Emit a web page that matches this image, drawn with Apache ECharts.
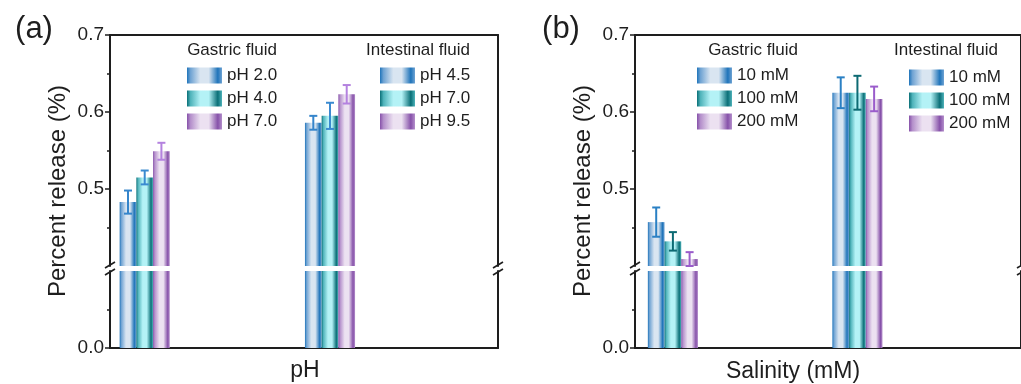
<!DOCTYPE html>
<html><head><meta charset="utf-8">
<script src="https://cdn.jsdelivr.net/npm/echarts@6/dist/echarts.min.js"></script>
<style>html,body{margin:0;padding:0;background:#fff;} #c{width:1021px;height:384px;}</style>
</head><body><div id="c"></div>
<script>
// ---------------- data ----------------
const groupX = [1, 2]; // gastric group, intestinal group
const aGastricLabels = ['pH 2.0', 'pH 4.0', 'pH 7.0'];
const aIntestinalLabels = ['pH 4.5', 'pH 7.0', 'pH 9.5'];
const aValues = [[0.483, 0.586], [0.515, 0.595], [0.549, 0.623]];   // per slot: [gastric, intestinal]
const aErrors = [[0.015, 0.009], [0.009, 0.017], [0.011, 0.012]];
const bGastricLabels = ['10 mM', '100 mM', '200 mM'];
const bIntestinalLabels = ['10 mM', '100 mM', '200 mM'];
const bValues = [[0.457, 0.625], [0.432, 0.625], [0.409, 0.617]];
const bErrors = [[0.019, 0.020], [0.012, 0.022], [0.009, 0.016]];
const upperTickValues = [0.5, 0.6, 0.7];
const lowerTickValues = [0.0];
const headerGastric = 'Gastric fluid';
const headerIntestinal = 'Intestinal fluid';
const yName = 'Percent release (%)';
const aXName = 'pH';
const bXName = 'Salinity (mM)';

// ---------------- layout / style ----------------
const FONT = 'Liberation Sans, Arial, sans-serif';
const INK = '#1e1e1e';
const BAR_W = 16.7;
const UP_TOP = 35, UP_H = 231, LO_TOP = 271, LO_H = 77;
const PANELS = [
  {left: 110, width: 388, xmin: 0.8127, xmax: 2.9066},
  {left: 635, width: 387, xmin: 0.7946, xmax: 2.8865}
];
const SLOT_COLORS = [
  {dark: '#1f74ba', mid: '#6fa3d3', light: '#d9e5f1'},
  {dark: '#0a6f77', mid: '#4fb3ba', light: '#b4f2f6'},
  {dark: '#8651a9', mid: '#b48fcb', light: '#ece1f1'}
];
const ERR_COLORS = [
  ['#3585cb', '#3a8ad0', '#b482df'],
  ['#2a80c4', '#0d6a73', '#9a5ccb']
];
function grad(c) {
  return new echarts.graphic.LinearGradient(0, 0, 1, 0, [
    {offset: 0, color: c.dark}, {offset: 0.1, color: c.mid},
    {offset: 0.38, color: c.light}, {offset: 0.62, color: c.light},
    {offset: 0.88, color: c.dark}, {offset: 1, color: c.mid}
  ]);
}

const grids = [], xAxes = [], yAxes = [], series = [];
function axisLineStyle() { return {show: true, onZero: false, lineStyle: {color: INK, width: 2}}; }

PANELS.forEach((p, pi) => {
  // upper grid (index pi*2), lower grid (pi*2+1)
  grids.push({left: p.left, width: p.width, top: UP_TOP, height: UP_H});
  grids.push({left: p.left, width: p.width, top: LO_TOP, height: LO_H});
  const gU = pi * 2, gL = pi * 2 + 1;
  // x axes
  xAxes.push({gridIndex: gU, type: 'value', min: p.xmin, max: p.xmax, position: 'top',
    axisLine: axisLineStyle(), axisTick: {show: false}, axisLabel: {show: false}, splitLine: {show: false}});
  xAxes.push({gridIndex: gL, type: 'value', min: p.xmin, max: p.xmax, position: 'bottom',
    axisLine: axisLineStyle(), axisTick: {show: false}, axisLabel: {show: false}, splitLine: {show: false}});
  // y axes: upper-left, upper-right, lower-left, lower-right
  const tickCommon = (vals) => ({
    axisLine: axisLineStyle(),
    axisTick: {show: true, inside: false, length: 5, customValues: vals, lineStyle: {color: INK, width: 1.5}},
    minorTick: {show: true, splitNumber: 2, length: 3, lineStyle: {color: INK, width: 1.5}},
    axisLabel: {show: true, customValues: vals, formatter: v => Number(v).toFixed(1), fontSize: 19,
      color: INK, margin: 6, fontFamily: FONT},
    splitLine: {show: false}, minorSplitLine: {show: false}
  });
  yAxes.push(Object.assign({gridIndex: gU, type: 'value', min: 0.4, max: 0.7, interval: 0.1, position: 'left'},
    tickCommon(upperTickValues)));
  yAxes.push({gridIndex: gU, type: 'value', min: 0.4, max: 0.7, interval: 0.1, position: 'right',
    axisLine: axisLineStyle(), axisTick: {show: false}, axisLabel: {show: false}, splitLine: {show: false}});
  yAxes.push(Object.assign({gridIndex: gL, type: 'value', min: 0, max: 0.1, interval: 0.1, position: 'left'},
    tickCommon(lowerTickValues)));
  yAxes.push({gridIndex: gL, type: 'value', min: 0, max: 0.1, interval: 0.1, position: 'right',
    axisLine: axisLineStyle(), axisTick: {show: false}, axisLabel: {show: false}, splitLine: {show: false}});
});

function makeRender(slot, showErr, errColor) {
  const colors = SLOT_COLORS[slot];
  return function (params, api) {
    const cs = params.coordSys;
    const xv = api.value(0), yv = api.value(1), ev = api.value(2);
    const c = api.coord([xv, yv]);
    const cx = c[0] + (slot - 1) * BAR_W;
    const top = Math.max(cs.y, c[1]);
    const bottom = cs.y + cs.height;
    const children = [{
      type: 'rect',
      shape: {x: cx - BAR_W / 2, y: top, width: BAR_W, height: Math.max(0, bottom - top)},
      style: {fill: grad(colors)}
    }];
    if (showErr) {
      const pHi = api.coord([xv, yv + ev])[1];
      const pLo = api.coord([xv, yv - ev])[1];
      const st = {stroke: errColor, lineWidth: 2};
      children.push({type: 'line', shape: {x1: cx, y1: pHi, x2: cx, y2: pLo}, style: st, z2: 10});
      children.push({type: 'line', shape: {x1: cx - 4, y1: pHi, x2: cx + 4, y2: pHi}, style: st, z2: 10});
      children.push({type: 'line', shape: {x1: cx - 4, y1: pLo, x2: cx + 4, y2: pLo}, style: st, z2: 10});
    }
    return {type: 'group', children};
  };
}

const panelData = [{vals: aValues, errs: aErrors, g: aGastricLabels, i: aIntestinalLabels},
                   {vals: bValues, errs: bErrors, g: bGastricLabels, i: bIntestinalLabels}];
const seriesNames = [[], []];
panelData.forEach((pd, pi) => {
  for (let s = 0; s < 3; s++) {
    const name = 'p' + pi + 's' + s;
    seriesNames[pi].push(name);
    const data = groupX.map((x, gi) => [x, pd.vals[s][gi], pd.errs[s][gi]]);
    // upper segment (with error bars)
    series.push({type: 'custom', name, xAxisIndex: pi * 2, yAxisIndex: pi * 4,
      renderItem: makeRender(s, true, ERR_COLORS[pi][s]), data, encode: {x: 0, y: 1},
      itemStyle: {color: grad(SLOT_COLORS[s])}, silent: true});
    // lower segment
    series.push({type: 'custom', name, xAxisIndex: pi * 2 + 1, yAxisIndex: pi * 4 + 2,
      renderItem: makeRender(s, false), data, encode: {x: 0, y: 1},
      itemStyle: {color: grad(SLOT_COLORS[s])}, silent: true});
  }
});

function makeLegend(pi, labels, left, top) {
  return {
    orient: 'vertical', left, top, padding: 0, itemWidth: 35, itemHeight: 16, itemGap: 6,
    selectedMode: false, icon: 'rect',
    data: seriesNames[pi].map((n, s) => ({name: n, icon: 'rect', itemStyle: {color: grad(SLOT_COLORS[s])}})),
    formatter: name => labels[seriesNames[pi].indexOf(name)],
    textStyle: {fontSize: 17, color: INK, fontFamily: FONT}
  };
}
const legends = [
  makeLegend(0, aGastricLabels, 187, 67),
  makeLegend(0, aIntestinalLabels, 380, 67),
  makeLegend(1, bGastricLabels, 697, 67),
  makeLegend(1, bIntestinalLabels, 909, 69)
];

// graphics: panel letters, headers, axis names, break marks
const graphics = [];
function txt(text, x, y, size, opts) {
  graphics.push(Object.assign({type: 'text', x, y, style: {text, fontSize: size, fill: INK, fontFamily: FONT,
    align: 'center', verticalAlign: 'middle'}, silent: true}, opts || {}));
}
txt('(a)', 34, 29, 31);
txt('(b)', 561, 29, 31);
txt(headerGastric, 232, 50, 17);
txt(headerIntestinal, 418, 50, 17);
txt(headerGastric, 753, 50, 17);
txt(headerIntestinal, 946, 50, 17);
txt(yName, 58, 191, 24, {rotation: Math.PI / 2});
txt(yName, 583, 191, 24, {rotation: Math.PI / 2});
txt(aXName, 305, 371, 23);
txt(bXName, 793, 372, 23);
const gapTop = UP_TOP + UP_H, gapBot = LO_TOP;
PANELS.forEach(p => {
  [p.left, p.left + p.width].forEach(ax => {
    [gapTop - 1, gapBot + 1].forEach(yy => {
      graphics.push({type: 'line', silent: true, z: 100,
        shape: {x1: ax - 5, y1: yy + 3, x2: ax + 5, y2: yy - 3},
        style: {stroke: INK, lineWidth: 1.6}});
    });
  });
});

const chart = echarts.init(document.getElementById('c'), null, {renderer: 'canvas'});
chart.setOption({
  animation: false,
  backgroundColor: '#fff',
  grid: grids, xAxis: xAxes, yAxis: yAxes, series,
  legend: legends,
  graphic: graphics
});
</script></body></html>
